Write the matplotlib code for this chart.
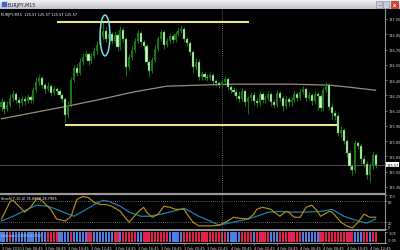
import numpy as np
import pandas as pd
import matplotlib.pyplot as plt
from matplotlib.patches import Ellipse, Rectangle
from matplotlib.lines import Line2D

# ---- data (EURJPY M15, 3-4 Feb 2010) ----
first_open = 126.14
closes = [126.18, 126.12, 126.16, 126.22, 126.26, 126.20, 126.17, 126.21, 126.19, 126.23,
          126.20, 126.30, 126.38, 126.42, 126.35, 126.31, 126.34, 126.27, 126.31, 126.29,
          126.25, 126.21, 126.06, 126.16, 126.40, 126.52, 126.47, 126.58, 126.63, 126.66,
          126.59, 126.64, 126.69, 126.74, 126.82, 126.88, 126.80, 126.85, 126.78, 126.84,
          126.72, 126.89, 126.80, 126.53, 126.63, 126.70, 126.78, 126.86, 126.77, 126.73,
          126.58, 126.49, 126.60, 126.71, 126.80, 126.87, 126.74, 126.78, 126.83, 126.79,
          126.85, 126.88, 126.90, 126.80, 126.76, 126.68, 126.53, 126.58, 126.43, 126.46,
          126.43, 126.42, 126.45, 126.39, 126.37, 126.35, 126.38, 126.41, 126.33, 126.30,
          126.28, 126.24, 126.21, 126.29, 126.18, 126.22, 126.25, 126.19, 126.17, 126.26,
          126.20, 126.22, 126.26, 126.18, 126.16, 126.27, 126.22, 126.15, 126.21, 126.18,
          126.20, 126.26, 126.22, 126.28, 126.31, 126.22, 126.25, 126.19, 126.26, 126.24,
          126.13, 126.30, 126.35, 126.14, 126.08, 126.05, 125.88, 125.91, 125.80, 125.68,
          125.56, 125.52, 125.78, 125.75, 125.62, 125.58, 125.47, 125.56, 125.66, 125.57]
highs = [126.22, 126.20, 126.19, 126.26, 126.30, 126.28, 126.23, 126.24, 126.24, 126.26,
         126.25, 126.33, 126.43, 126.45, 126.44, 126.37, 126.38, 126.36, 126.34, 126.33,
         126.31, 126.27, 126.23, 126.19, 126.43, 126.55, 126.56, 126.62, 126.67, 126.69,
         126.68, 126.67, 126.72, 126.78, 126.86, 126.98, 126.92, 126.88, 126.87, 126.87,
         126.86, 126.93, 126.92, 126.82, 126.66, 126.73, 126.81, 126.89, 126.88, 126.79,
         126.75, 126.60, 126.63, 126.74, 126.83, 126.90, 126.89, 126.81, 126.86, 126.85,
         126.88, 126.91, 126.94, 126.92, 126.82, 126.78, 126.70, 126.62, 126.61, 126.49,
         126.48, 126.46, 126.48, 126.47, 126.41, 126.39, 126.41, 126.44, 126.43, 126.35,
         126.33, 126.31, 126.29, 126.32, 126.31, 126.24, 126.28, 126.28, 126.22, 126.29,
         126.28, 126.25, 126.29, 126.28, 126.21, 126.30, 126.29, 126.24, 126.24, 126.23,
         126.23, 126.29, 126.28, 126.31, 126.34, 126.33, 126.28, 126.27, 126.29, 126.28,
         126.26, 126.33, 126.38, 126.37, 126.17, 126.11, 126.08, 125.95, 125.93, 125.82,
         125.71, 125.58, 125.81, 125.80, 125.77, 125.66, 125.61, 125.59, 125.69, 125.68]
lows = [126.10, 126.07, 126.10, 126.14, 126.19, 126.17, 126.13, 126.15, 126.16, 126.17,
        126.17, 126.18, 126.28, 126.35, 126.32, 126.27, 126.29, 126.24, 126.25, 126.26,
        126.22, 126.18, 125.99, 126.03, 126.14, 126.38, 126.44, 126.45, 126.55, 126.60,
        126.55, 126.57, 126.62, 126.66, 126.72, 126.80, 126.77, 126.78, 126.75, 126.76,
        126.69, 126.70, 126.77, 126.44, 126.50, 126.60, 126.68, 126.76, 126.74, 126.70,
        126.55, 126.43, 126.47, 126.58, 126.69, 126.78, 126.71, 126.72, 126.76, 126.76,
        126.77, 126.83, 126.86, 126.77, 126.73, 126.65, 126.47, 126.50, 126.40, 126.40,
        126.40, 126.39, 126.40, 126.36, 126.34, 126.32, 126.33, 126.36, 126.30, 126.27,
        126.25, 126.21, 126.18, 126.19, 126.15, 126.07, 126.19, 126.16, 126.14, 126.15,
        126.17, 126.17, 126.20, 126.15, 126.13, 126.14, 126.19, 126.10, 126.13, 126.15,
        126.15, 126.18, 126.19, 126.20, 126.26, 126.19, 126.20, 126.16, 126.17, 126.11,
        126.10, 126.11, 126.28, 126.11, 126.02, 126.01, 125.85, 125.84, 125.77, 125.64,
        125.52, 125.47, 125.49, 125.72, 125.58, 125.55, 125.43, 125.40, 125.53, 125.54]

# slow moving average, read at a few bars
ma_bars = [0, 22, 34, 45, 57, 68, 80, 100, 113, 120, 129]
ma_vals = [126.02, 126.14, 126.21, 126.28, 126.34, 126.35, 126.36, 126.36, 126.35, 126.33, 126.30]

# stochastic main / signal
st_bars = [0, 3, 4, 8, 10, 12, 13, 17, 19, 22, 24, 26, 28, 30, 32, 34, 36, 38, 41, 43, 44, 45,
           47, 49, 50, 52, 54, 56, 58, 60, 63, 64, 66, 68, 72, 75, 78, 80, 82, 85, 87, 88, 90,
           93, 94, 96, 98, 99, 101, 103, 105, 107, 109, 110, 113, 114, 117, 119, 121, 123,
           125, 127, 129]
st_main = [29, 80, 83, 49, 63, 86, 89, 57, 29, 23, 37, 86, 94, 91, 77, 71, 71, 66, 51, 29, 20,
           29, 49, 63, 49, 34, 43, 66, 63, 57, 57, 43, 20, 9, 9, 11, 23, 34, 31, 29, 43, 57,
           63, 57, 49, 37, 51, 49, 34, 34, 63, 69, 51, 37, 51, 49, 20, 9, 3, 20, 43, 34, 34]
sig_bars = [0, 4, 9, 12, 16, 19, 23, 25, 28, 32, 35, 37, 41, 44, 48, 51, 55, 59, 63, 65, 68,
            72, 75, 80, 85, 88, 92, 96, 100, 105, 110, 114, 118, 123, 126, 129]
st_sig = [23, 37, 57, 69, 66, 57, 43, 37, 51, 71, 83, 80, 66, 49, 37, 37, 43, 51, 60, 51, 37,
          23, 11, 20, 29, 37, 49, 51, 49, 49, 51, 57, 37, 23, 17, 29]

# bottom indicator: runs of (colour, number of bars)
hist_runs = [('b', 3), ('r', 1), ('b', 12), ('r', 4), ('b', 4), ('r', 1), ('b', 5), ('r', 2),
             ('b', 7), ('r', 2), ('b', 1), ('r', 5), ('b', 2), ('r', 9), ('b', 5), ('r', 15),
             ('b', 5), ('r', 4), ('b', 1), ('r', 5), ('b', 3), ('r', 8), ('b', 6), ('r', 12),
             ('b', 3), ('r', 2), ('b', 1), ('r', 2)]

price_ticks = [127.00, 126.85, 126.70, 126.55, 126.40, 126.25, 126.10, 125.95, 125.80, 125.65,
               125.50, 125.35]
last_price = 125.57
times = pd.date_range('2010-02-03 05:00', periods=len(closes), freq='15min')

# ---- figure ----
W, H = 400, 251
fig = plt.figure(figsize=(W / 100, H / 100), dpi=100, facecolor='black')


def px_axes(x0, y0, x1, y1):
    return fig.add_axes([x0 / W, 1 - y1 / H, (x1 - x0) / W, (y1 - y0) / H])


XL = (-0.52, 132.24)
GRID = '#909090'
TXT = '#d8d8d8'
FS = 2.5


def style(a):
    a.set_facecolor('black')
    a.set_xlim(*XL)
    for s in ['top', 'left', 'bottom']:
        a.spines[s].set_visible(False)
    a.spines['right'].set_color(GRID)
    a.spines['right'].set_linewidth(0.8)
    a.yaxis.tick_right()
    a.tick_params(axis='y', colors=GRID, labelcolor=TXT, labelsize=FS, length=1.5, width=0.5, pad=0.8)
    a.set_xticks([])


# title bar
tb = px_axes(0, 0, 400, 10)
grad = np.linspace(0, 1, 20).reshape(-1, 1)
tb.imshow(grad, aspect='auto', cmap=plt.matplotlib.colors.LinearSegmentedColormap.from_list(
    'tb', ['#f4f4f8', '#c4c4cc']), extent=(0, 400, 10, 0))
tb.set_xlim(0, 400)
tb.set_ylim(10, 0)
tb.axis('off')
tb.add_patch(Rectangle((1.5, 2.5), 4, 4, color='#3a6ac8'))
tb.text(7.5, 5.3, 'EURJPY,M15', fontsize=3.4, color='#202020', va='center', ha='left')
tb.add_patch(Rectangle((376, 1.5), 6, 7, facecolor='#c8ccd8', edgecolor='#8088a0', lw=0.4))
tb.add_patch(Rectangle((383, 1.5), 6, 7, facecolor='#c8ccd8', edgecolor='#8088a0', lw=0.4))
tb.add_patch(Rectangle((391, 1.5), 7, 7, facecolor='#e04030', edgecolor='#a02010', lw=0.4))
tb.text(394.5, 5.2, 'x', fontsize=3.5, color='white', ha='center', va='center', weight='bold')
tb.text(379, 6.5, '_', fontsize=3.5, color='#303030', ha='center', va='bottom')

# main price panel
ax = px_axes(0, 10, 385, 194)
style(ax)
ax.set_ylim(125.291, 127.098)
ax.set_yticks(price_ticks)
ax.set_yticklabels([f'{p:.2f}' for p in price_ticks])

o = np.array([first_open] + closes[:-1])
c = np.array(closes)
hi = np.array(highs)
lo = np.array(lows)
idx = np.arange(len(c))
up = c >= o
ax.vlines(idx, lo, hi, color='#137a13', lw=0.7, zorder=2)
body_lo = np.minimum(o, c)
body_h = np.maximum(np.abs(c - o), 0.006)
ax.bar(idx[up], body_h[up], bottom=body_lo[up], width=0.7, color='#137a13', lw=0, zorder=3)
ax.bar(idx[~up], body_h[~up], bottom=body_lo[~up], width=0.7, color='#d4f2c8',
       edgecolor='#137a13', lw=0.3, zorder=3)

ax.plot(ma_bars, ma_vals, color='#9a8c7c', lw=0.9, zorder=2)
ax.axhline(last_price, color='#4a4a4a', lw=0.8, zorder=1)
ax.hlines(126.968, 19.1, 85.3, color='#ebe58a', lw=1.5, zorder=4)
ax.hlines(125.962, 21.9, 115.7, color='#ebe58a', lw=1.5, zorder=4)
ax.add_patch(Ellipse((35.7, 126.838), 3.4, 0.40, fill=False, edgecolor='#78dce4', lw=1.1, zorder=5))
ax.axvline(76, color='#808080', lw=0.6, ls=(0, (1, 1.5)), zorder=1)
ax.text(0.003, 0.985, 'EURJPY,M15  125.57 125.57 125.57 125.57', transform=ax.transAxes,
        fontsize=2.5, color='white', va='top', ha='left')
ax.text(1.004, (last_price - 125.291) / (127.098 - 125.291), f'{last_price:.2f}',
        transform=ax.transAxes, fontsize=FS, color='black', va='center', ha='left',
        bbox=dict(boxstyle='square,pad=0.15', fc='white', ec='none'))

# stochastic panel
ax2 = px_axes(0, 195.5, 385, 230)
style(ax2)
ax2.set_ylim(0, 100)
ax2.set_yticks([100, 80, 20, 0])
lab2 = ax2.get_yticklabels()
lab2[0].set_va('top')
lab2[-1].set_va('bottom')
for lev in (80, 20):
    ax2.axhline(lev, color='#808080', lw=0.6, ls=(0, (1, 1.5)))
ax2.plot(sig_bars, st_sig, color='#1f7fa6', lw=0.9)
ax2.plot(st_bars, st_main, color='#a8881a', lw=0.9)
ax2.axvline(76, color='#808080', lw=0.6, ls=(0, (1, 1.5)))
ax2.text(0.003, 0.97, 'Stoch(7,10,4) 35.6852 28.7965', transform=ax2.transAxes,
         fontsize=2.5, color='white', va='top', ha='left')

# bottom colour histogram
ax3 = px_axes(0, 232.5, 385, 243.5)
style(ax3)
ax3.set_ylim(-0.05, 1.05)
ax3.set_yticks([1.05, -0.05])
ax3.set_yticklabels(['1.05', '-0.05'])
lab3 = ax3.get_yticklabels()
lab3[0].set_va('top')
lab3[1].set_va('bottom')
cols = []
for col, n in hist_runs:
    cols += [col] * n
colmap = {'r': '#e4204c', 'b': '#4c7ee6'}
ax3.bar(idx, np.ones(len(idx)), width=0.72, color=[colmap[k] for k in cols], lw=0)
ax3.axvline(76, color='#808080', lw=0.6)
ax3.text(0.003, 0.85, 'Indicator 1.0000 0.0000', transform=ax3.transAxes,
         fontsize=2.4, color='#c8c8c8', va='top', ha='left')

tick_bars = [0] + list(range(7, len(c), 8))
tick_lab = ['3 Feb 2010'] + [f'{times[i].day} {times[i]:%b %H:%M}' for i in tick_bars[1:]]
ax3.set_xticks(tick_bars)
ax3.set_xticklabels(tick_lab, ha='left')
ax3.tick_params(axis='x', colors=GRID, labelcolor=TXT, labelsize=FS, length=1.5, width=0.5,
                pad=1, direction='out')

# separators
for yy, lw in [(194.6, 1.6), (231.4, 1.4), (244.0, 0.8)]:
    fig.add_artist(Line2D([0, 385 / W], [1 - yy / H] * 2, color='#9a9a9a', lw=lw))

fig.savefig('out.png', dpi=100, facecolor='black')
